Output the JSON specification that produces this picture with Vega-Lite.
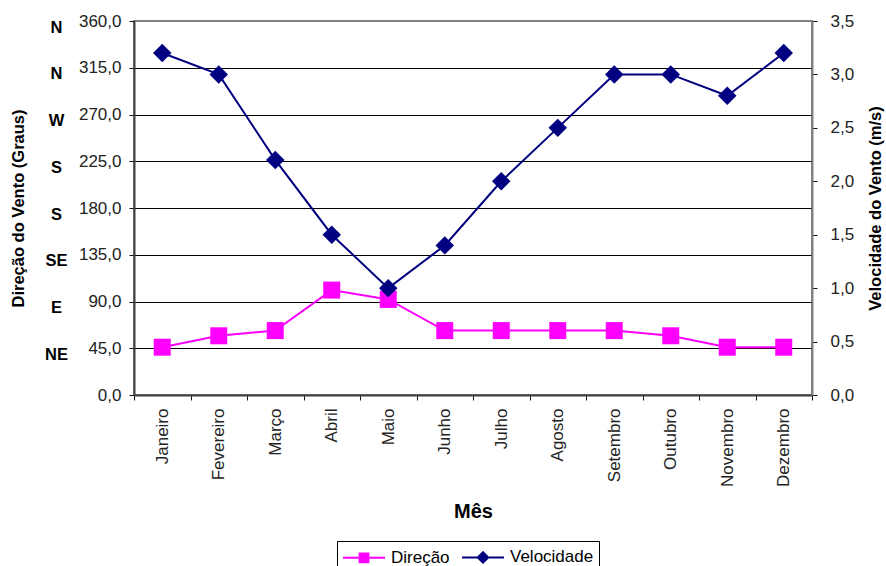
{
  "$schema": "https://vega.github.io/schema/vega-lite/v6.json",
  "width": 678,
  "height": 374,
  "autosize": "none",
  "padding": {"left": 134, "top": 21, "right": 74, "bottom": 171},
  "background": "white",
  "config": {
    "font": "Liberation Sans",
    "view": {"stroke": "#808080", "strokeWidth": 2},
    "axis": {"labelFontSize": 17, "labelColor": "#222222", "tickColor": "#111111", "titleColor": "#000000"}
  },
  "data": {
    "values": [
      {"mes": "Janeiro", "dir": 46, "vel": 3.2},
      {"mes": "Fevereiro", "dir": 57, "vel": 3.0},
      {"mes": "Março", "dir": 62, "vel": 2.2},
      {"mes": "Abril", "dir": 101, "vel": 1.5},
      {"mes": "Maio", "dir": 92, "vel": 1.0},
      {"mes": "Junho", "dir": 62, "vel": 1.4},
      {"mes": "Julho", "dir": 62, "vel": 2.0},
      {"mes": "Agosto", "dir": 62, "vel": 2.5},
      {"mes": "Setembro", "dir": 62, "vel": 3.0},
      {"mes": "Outubro", "dir": 57, "vel": 3.0},
      {"mes": "Novembro", "dir": 46, "vel": 2.8},
      {"mes": "Dezembro", "dir": 46, "vel": 3.2}
    ]
  },
  "encoding": {
    "x": {
      "field": "mes",
      "type": "nominal",
      "sort": null,
      "bandPosition": 0.5,
      "scale": {"type": "band", "paddingInner": 0, "paddingOuter": 0},
      "axis": {
        "title": "Mês",
        "titleFontSize": 20,
        "titleFontWeight": "bold",
        "titlePadding": 15,
        "labelAngle": 270,
        "labelPadding": 8,
        "tickSize": 5,
        "tickBand": "extent",
        "domainColor": "#404040",
        "domainWidth": 2,
        "grid": false
      }
    }
  },
  "layer": [
    {
      "mark": {"type": "line", "strokeWidth": 2},
      "encoding": {
        "y": {
          "field": "dir",
          "type": "quantitative",
          "scale": {"domain": [0, 360], "nice": false, "zero": true},
          "axis": {
            "orient": "left",
            "values": [0, 45, 90, 135, 180, 225, 270, 315, 360],
            "labelExpr": "replace(format(datum.value, '.1f'), '.', ',')",
            "title": null,
            "grid": true,
            "gridColor": "#000000",
            "gridWidth": 1,
            "gridOpacity": {"condition": {"test": "datum.value == 0 || datum.value == 360", "value": 0}, "value": 1},
            "tickSize": 5,
            "labelPadding": 8,
            "domainColor": "#404040",
            "domainWidth": 2
          }
        },
        "color": {
          "datum": "Direção",
          "scale": {"domain": ["Direção", "Velocidade"], "range": ["#FF00FF", "#000080"]},
          "legend": {
            "orient": "none",
            "legendX": 203,
            "legendY": 520,
            "direction": "horizontal",
            "title": null,
            "strokeColor": "#000000",
            "fillColor": "#ffffff",
            "padding": 5,
            "labelFontSize": 17,
            "labelColor": "#000000",
            "labelOffset": 5,
            "columnPadding": 8,
            "symbolSize": 1764,
            "symbolStrokeWidth": 2,
            "symbolType": "M-1,0H1",
            "encode": {
              "symbols": {
                "update": {
                  "shape": {"signal": "datum.value == 'Direção' ? 'M-1,-0.52H1M-0.21,-0.73H0.21V-0.31H-0.21Z' : 'M-1,-0.52H1M0,-0.77L0.25,-0.52L0,-0.27L-0.25,-0.52Z'"},
                  "stroke": {"scale": "color", "field": "value"},
                  "fill": {"scale": "color", "field": "value"},
                  "strokeWidth": {"value": 2},
                  "opacity": {"value": 1}
                }
              },
              "labels": {
                "update": {"dy": {"value": -11}}
              }
            }
          }
        }
      }
    },
    {
      "mark": {"type": "point", "shape": "square", "filled": true, "size": 289, "opacity": 1},
      "encoding": {
        "y": {
          "field": "dir",
          "type": "quantitative",
          "scale": {"domain": [0, 360], "nice": false, "zero": true},
          "axis": {
            "orient": "left",
            "values": [45, 90, 135, 180, 225, 270, 315, 360],
            "labelExpr": "datum.value == 45 ? 'NE' : datum.value == 90 ? 'E' : datum.value == 135 ? 'SE' : datum.value == 270 ? 'W' : datum.value >= 315 ? 'N' : 'S'",
            "grid": false,
            "ticks": false,
            "tickSize": 0,
            "domain": false,
            "labelAlign": "center",
            "labelBaseline": "middle",
            "labelPadding": 78,
            "labelOffset": 6,
            "labelFontWeight": "bold",
            "labelFontSize": 16.5,
            "labelColor": "#000000",
            "title": "Direção do Vento (Graus)",
            "titleFontSize": 16.5,
            "titleFontWeight": "bold",
            "titlePadding": 18
          }
        },
        "color": {"datum": "Direção", "scale": {"domain": ["Direção", "Velocidade"], "range": ["#FF00FF", "#000080"]}}
      }
    },
    {
      "mark": {"type": "line", "strokeWidth": 2},
      "encoding": {
        "y": {
          "field": "vel",
          "type": "quantitative",
          "scale": {"domain": [0, 3.5], "nice": false, "zero": true},
          "axis": {
            "orient": "right",
            "values": [0, 0.5, 1, 1.5, 2, 2.5, 3, 3.5],
            "labelExpr": "replace(format(datum.value, '.1f'), '.', ',')",
            "grid": false,
            "tickSize": 5,
            "labelPadding": 13,
            "domainColor": "#808080",
            "domainWidth": 2,
            "title": "Velocidade do Vento (m/s)",
            "titleFontSize": 16.5,
            "titleFontWeight": "bold",
            "titleAngle": 270,
            "titleBaseline": "top",
            "titlePadding": 14
          }
        },
        "color": {"datum": "Velocidade", "scale": {"domain": ["Direção", "Velocidade"], "range": ["#FF00FF", "#000080"]}}
      }
    },
    {
      "mark": {"type": "point", "shape": "diamond", "filled": true, "size": 340, "opacity": 1},
      "encoding": {
        "y": {
          "field": "vel",
          "type": "quantitative",
          "scale": {"domain": [0, 3.5], "nice": false, "zero": true},
          "axis": null
        },
        "color": {"datum": "Velocidade", "scale": {"domain": ["Direção", "Velocidade"], "range": ["#FF00FF", "#000080"]}}
      }
    }
  ],
  "resolve": {"scale": {"y": "independent"}}
}
